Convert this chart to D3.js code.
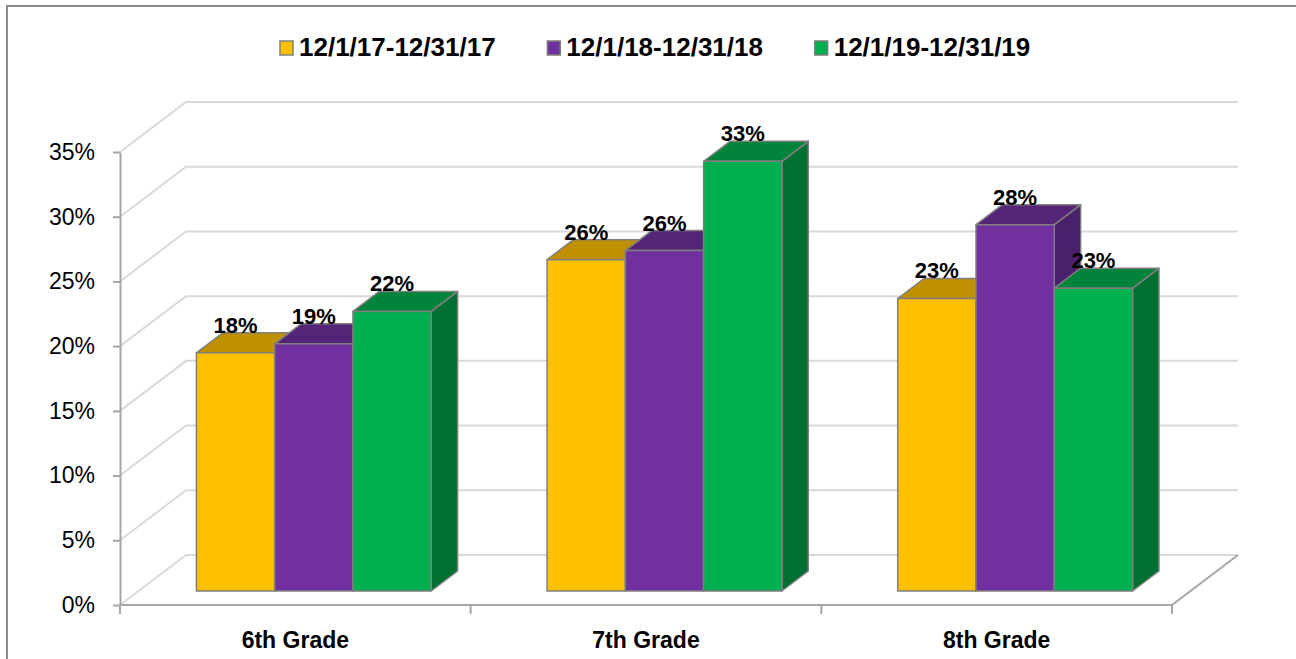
<!doctype html>
<html>
  <head>
    <meta charset="utf-8">
    <style>
      body { margin: 0; background: #fff; }
      svg { display: block; font-family: "Liberation Sans", Arial, sans-serif; }
      .axis text { fill: #000; }
    </style>
  </head>
  <body>
    <svg width="1296" height="659"></svg>
    <script src="https://d3js.org/d3.v7.min.js"></script>
    <script>

      var categories = ["6th Grade", "7th Grade", "8th Grade"];
      var seriesNames = ["12/1/17-12/31/17", "12/1/18-12/31/18", "12/1/19-12/31/19"];
      var period2017 = [0.184, 0.256, 0.226];
      var period2018 = [0.191, 0.263, 0.283];
      var period2019 = [0.216, 0.332, 0.234];
      var yTicks = [0, 0.05, 0.10, 0.15, 0.20, 0.25, 0.30, 0.35];

      var seriesValues = [period2017, period2018, period2019];
      // front, top, side
      var colors = [
        ["#FFC000", "#BF9000", "#A67C00"],
        ["#7030A0", "#542478", "#4A1F6B"],
        ["#00B050", "#00843C", "#006F32"]
      ];

      var svg = d3.select("svg");

      // oblique depth of the floor, bars sit between barFront and barBack
      var depthX = 66, depthY = 50;
      var barFront = 0.28, barBack = 0.68;
      var gridColor = "#d9d9d9", axisColor = "#a6a6a6", edgeColor = "#7f7f7f";

      var x0 = d3.scaleBand().domain(categories).range([120, 1172]);
      var x1 = d3.scaleBand().domain(seriesNames).range([0, x0.bandwidth()]).paddingOuter(0.74);
      var y = d3.scaleLinear().domain([0, 0.35]).range([605, 152]);

      function proj(px, v, d) {
        return [px + d * depthX, y(v) - d * depthY];
      }
      var line = d3.line();

      // chart border
      svg.append("rect")
          .attr("x", 7).attr("y", 6)
          .attr("width", 1300).attr("height", 700)
          .attr("fill", "none")
          .attr("stroke", "#8c8c8c")
          .attr("stroke-width", 2);

      // side wall + back wall gridlines
      var xLeft = x0.range()[0], xRight = x0.range()[1];
      svg.append("g").selectAll("path")
        .data(yTicks)
        .enter().append("path")
          .attr("fill", "none")
          .attr("stroke", gridColor)
          .attr("stroke-width", 2)
          .attr("d", function(t) {
            return line([proj(xLeft, t, 0), proj(xLeft, t, 1), proj(xRight, t, 1)]);
          });

      // floor edges
      svg.append("path")
          .attr("fill", "none")
          .attr("stroke", axisColor)
          .attr("stroke-width", 2)
          .attr("d", line([proj(xLeft, 0, 0), proj(xRight, 0, 0), proj(xRight, 0, 1)]));

      // y axis
      var yAxis = svg.append("g")
          .attr("class", "axis")
          .attr("transform", "translate(" + xLeft + ",0)")
          .call(d3.axisLeft(y).tickValues(yTicks).tickFormat(d3.format(".0%")).tickSize(7).tickSizeOuter(0).tickPadding(18));
      yAxis.selectAll("path, line").attr("stroke", axisColor).attr("stroke-width", 2);
      yAxis.selectAll("text").style("font-size", "23px");

      // x axis labels
      var xAxis = svg.append("g")
          .attr("class", "axis")
          .attr("transform", "translate(0," + y(0) + ")")
          .call(d3.axisBottom(x0).tickSize(0).tickPadding(27));
      xAxis.select(".domain").remove();
      xAxis.selectAll("text").style("font-size", "23px").style("font-weight", "bold");

      // category boundary ticks
      var bounds = categories.map(function(c) { return x0(c); }).concat([xRight]);
      svg.append("g").selectAll("line")
        .data(bounds)
        .enter().append("line")
          .attr("x1", function(d) { return d; })
          .attr("x2", function(d) { return d; })
          .attr("y1", y(0))
          .attr("y2", y(0) + 9)
          .attr("stroke", axisColor)
          .attr("stroke-width", 2);

      // 3d bars, drawn left to right
      var bars = svg.append("g");
      var labels = [];
      categories.forEach(function(cat, i) {
        seriesNames.forEach(function(s, j) {
          var v = seriesValues[j][i];
          var xa = x0(cat) + x1(s), xb = xa + x1.bandwidth();
          var c = colors[j];
          var faces = [
            { fill: c[2], pts: [proj(xb, v, barFront), proj(xb, v, barBack), proj(xb, 0, barBack), proj(xb, 0, barFront)] },
            { fill: c[1], pts: [proj(xa, v, barFront), proj(xb, v, barFront), proj(xb, v, barBack), proj(xa, v, barBack)] },
            { fill: c[0], pts: [proj(xa, v, barFront), proj(xb, v, barFront), proj(xb, 0, barFront), proj(xa, 0, barFront)] }
          ];
          faces.forEach(function(f) {
            bars.append("path")
                .attr("d", line(f.pts) + "Z")
                .attr("fill", f.fill)
                .attr("stroke", edgeColor)
                .attr("stroke-width", 1.5)
                .attr("stroke-linejoin", "round");
          });
          labels.push({ x: (xa + xb) / 2 + barFront * depthX, y: proj(xa, v, barBack)[1], v: v });
        });
      });

      // data labels
      svg.append("g").selectAll("text")
        .data(labels)
        .enter().append("text")
          .attr("x", function(d) { return d.x; })
          .attr("y", function(d) { return d.y; })
          .attr("text-anchor", "middle")
          .style("font-size", "22px")
          .style("font-weight", "bold")
          .text(function(d) { return d3.format(".0%")(d.v); });

      // legend
      var legendX = d3.scaleBand().domain(seriesNames).range([280, 1082]);
      var legend = svg.append("g").selectAll("g")
        .data(seriesNames)
        .enter().append("g")
          .attr("transform", function(d) { return "translate(" + legendX(d) + ",0)"; });
      legend.append("rect")
          .attr("x", 0).attr("y", 41)
          .attr("width", 13).attr("height", 14)
          .attr("fill", function(d, i) { return colors[i][0]; })
          .attr("stroke", edgeColor)
          .attr("stroke-width", 1.5);
      legend.append("text")
          .attr("x", 19).attr("y", 56)
          .style("font-size", "26px")
          .style("font-weight", "bold")
          .text(function(d) { return d; });

    </script>
  </body>
</html>
